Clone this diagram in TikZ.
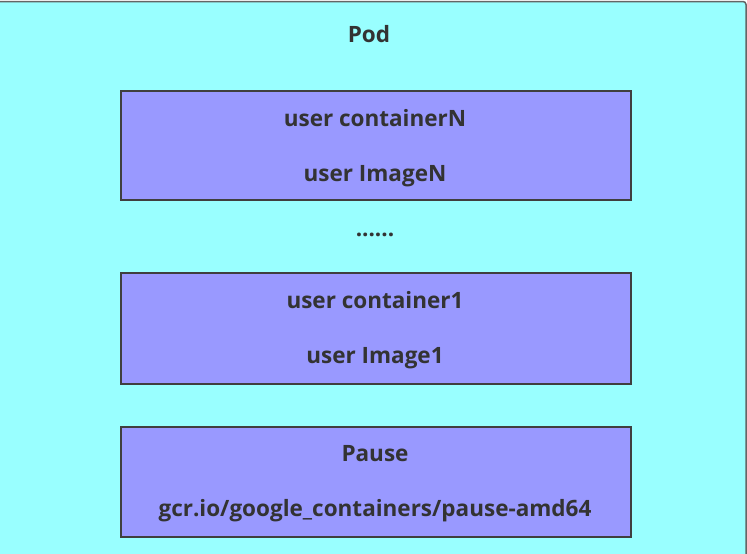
\documentclass[tikz,border=0pt]{standalone}
\usepackage{fontspec}
\setmainfont{Open Sans}
\definecolor{podfill}{HTML}{99FFFF}
\definecolor{boxfill}{HTML}{9999FF}
\definecolor{edge}{HTML}{3F3F3F}
\definecolor{txt}{HTML}{333333}
\begin{document}
\begin{tikzpicture}[x=1pt,y=-1pt,
  pod/.style={draw=edge!80, line width=1.5pt, fill=podfill, rounded corners=3pt},
  ctr/.style={draw=edge, line width=2.2pt, fill=boxfill},
  lbl/.style={text=txt, font=\fontsize{22.5}{24}\selectfont\bfseries, inner sep=0pt, anchor=base}]
\useasboundingbox (0,0) rectangle (747,554);
\path[pod] (-6,1.5) rectangle (746,560);
\node[ctr, minimum width=510, minimum height=109, anchor=north west] (boxN) at (120,90) {};
\node[ctr, minimum width=510, minimum height=111, anchor=north west] (box1) at (120,272) {};
\node[ctr, minimum width=510, minimum height=110, anchor=north west] (pause) at (120,426) {};
\node[lbl] (podlbl) at (369,42) {Pod};
\node[lbl] (nname) at (375,126) {user containerN};
\node[lbl] (nimg) at (375,181) {user ImageN};
\node[lbl] (dots) at (375,236) {......};
\node[lbl] (name1) at (375,308) {user container1};
\node[lbl] (img1) at (375,363) {user Image1};
\node[lbl] (pname) at (375,461) {Pause};
\node[lbl] (pimg) at (375,516) {gcr.io/google\_containers/pause-amd64};
\end{tikzpicture}
\end{document}
